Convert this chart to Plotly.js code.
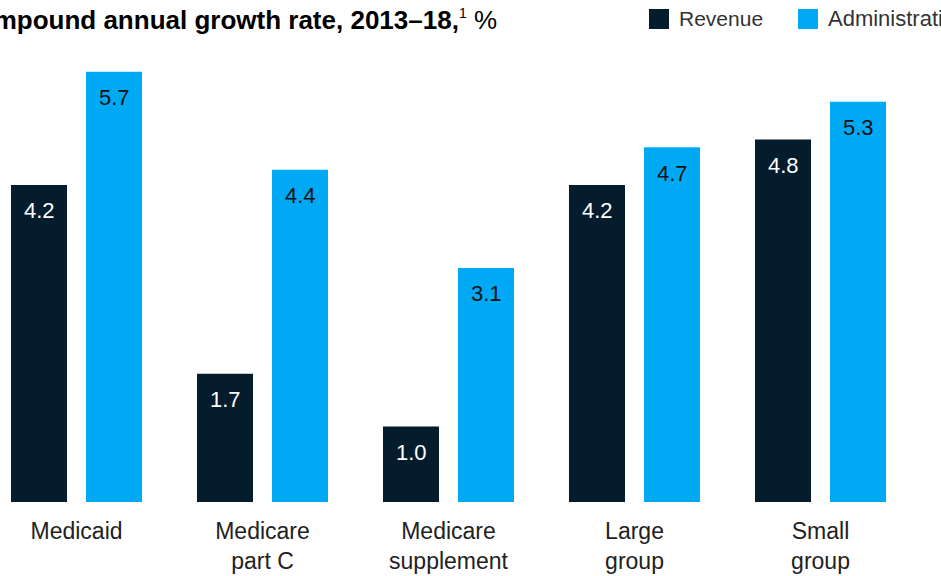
<!DOCTYPE html>
<html>
<head>
<meta charset="utf-8">
<script src="https://cdn.plot.ly/plotly-3.0.1.min.js"></script>
<style>
  html, body { margin: 0; padding: 0; background: #ffffff; overflow: hidden; }
  #chart { width: 941px; height: 576px; }
</style>
</head>
<body>
<div id="chart"></div>
<script>
// ---- data ----
const categories = ["Medicaid", "Medicare<br>part C", "Medicare<br>supplement", "Large<br>group", "Small<br>group"];
const revenue = [4.2, 1.7, 1.0, 4.2, 4.8];
const adminCosts = [5.7, 4.4, 3.1, 4.7, 5.3];
const seriesNames = ["Revenue", "Administrative costs"];
const titleText = "<b>Compound annual growth rate, 2013–18,</b><sup><span style=\"font-size:14px\">1</span></sup> %";

// ---- style ----
const DARK = "#051c2c";
const BLUE = "#00a9f4";
const FONT = "Liberation Sans, Arial, sans-serif";

const traces = [
  { type: "bar", name: seriesNames[0], x: categories, y: revenue, marker: { color: DARK }, hoverinfo: "skip", showlegend: false },
  { type: "bar", name: seriesNames[1], x: categories, y: adminCosts, marker: { color: BLUE }, hoverinfo: "skip", showlegend: false }
];

const annotations = [];
categories.forEach((c, i) => {
  annotations.push({ x: c, y: revenue[i], xref: "x", yref: "y", text: revenue[i].toFixed(1), showarrow: false,
    xshift: -37.5, yshift: -26, yanchor: "middle", xanchor: "center", font: { family: FONT, size: 22, color: "#ffffff" } });
  annotations.push({ x: c, y: adminCosts[i], xref: "x", yref: "y", text: adminCosts[i].toFixed(1), showarrow: false,
    xshift: 37.5, yshift: -26, yanchor: "middle", xanchor: "center", font: { family: FONT, size: 22, color: "#111111" } });
});

// title (left part runs off the frame, as in the reference)
annotations.push({ xref: "paper", yref: "paper", x: 499 / 941, y: (502 - 20) / 490, xanchor: "right", yanchor: "middle",
  text: titleText, showarrow: false, font: { family: FONT, size: 26, color: "#000000" } });

// legend labels
annotations.push({ xref: "paper", yref: "paper", x: 677 / 941, y: (502 - 19) / 490, xanchor: "left", yanchor: "middle",
  text: seriesNames[0], showarrow: false, font: { family: FONT, size: 21, color: "#333333" } });
annotations.push({ xref: "paper", yref: "paper", x: 826 / 941, y: (502 - 19) / 490, xanchor: "left", yanchor: "middle",
  text: seriesNames[1], showarrow: false, font: { family: FONT, size: 22, color: "#333333" } });

const shapes = [
  { type: "rect", xref: "paper", yref: "paper", x0: 649 / 941, x1: 669 / 941, y0: (502 - 29) / 490, y1: (502 - 9) / 490, fillcolor: DARK, line: { width: 0 } },
  { type: "rect", xref: "paper", yref: "paper", x0: 798 / 941, x1: 818 / 941, y0: (502 - 29) / 490, y1: (502 - 9) / 490, fillcolor: BLUE, line: { width: 0 } }
];

const layout = {
  width: 941, height: 576,
  margin: { l: 0, r: 0, t: 12, b: 74, pad: 0 },
  paper_bgcolor: "#ffffff", plot_bgcolor: "#ffffff",
  barmode: "group", bargap: 0.1935, bargroupgap: 0.2533,
  showlegend: false,
  xaxis: {
    type: "category",
    range: [-76.5 / 186, -76.5 / 186 + 941 / 186],
    showgrid: false, zeroline: false, showline: false, ticks: "",
    ticklabelstandoff: 13,
    tickfont: { family: FONT, size: 23, color: "#222222" },
    fixedrange: true
  },
  yaxis: {
    range: [0, 490 / 75.5],
    showgrid: false, zeroline: false, showline: false, showticklabels: false, ticks: "",
    fixedrange: true
  },
  annotations: annotations,
  shapes: shapes
};

Plotly.newPlot("chart", traces, layout, { staticPlot: true, displayModeBar: false });
</script>
</body>
</html>
